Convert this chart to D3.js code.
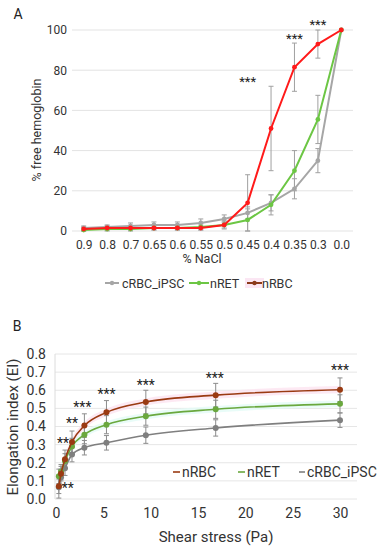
<!DOCTYPE html>
<html><head><meta charset="utf-8">
<script src="https://cdn.jsdelivr.net/npm/d3@7"></script>
<style>body{margin:0;background:#fff}svg{display:block;font-family:Roboto,"Noto Sans",sans-serif}</style>
</head><body>
<script>
// ---------- Panel A data ----------
const naclLabels = ["0.9","0.8","0.7","0.65","0.6","0.55","0.5","0.45","0.4","0.35","0.3","0.0"];
const aTicks = [0,20,40,60,80,100];
const aCRBC = [1.5,2,2.5,3,3,4,6,9,14,21,35,100];
const aCRBCerr = [1,1,1.5,1.5,1.5,2,2,3,4,5,6,0];
const aNRET = [0.5,1,1,1.5,1.5,2,3,5.5,13,30,55.5,100];
const aNRETerr = [1,1,1,1,1,1.5,2,5.5,5,10,12,0];
const aNRBC = [1,1.5,1.5,1.5,1.5,1.5,3,14,51,81.5,93,100];
const aNRBCerr = [1,1,1,1,1,1,1.5,14,21,12,7,0];
const aStars = [{c:"0.45",v:75,t:"***"},{c:"0.35",v:96.5,t:"***"},{c:"0.3",v:103.5,t:"***"}];
const aLegend = ["cRBC_iPSC","nRET","nRBC"];

// ---------- Panel B data ----------
const shear = [0.3,0.53,0.95,1.69,3,5.33,9.49,16.87,30];
const bTicksX = [0,5,10,15,20,25,30];
const bTicksY = [0,0.1,0.2,0.3,0.4,0.5,0.6,0.7,0.8];
const bNRBC = [0.07,0.14,0.22,0.315,0.405,0.478,0.535,0.573,0.603];
const bNRBCerr = [0.04,0.04,0.05,0.06,0.065,0.065,0.065,0.065,0.065];
const bNRET = [0.125,0.15,0.21,0.29,0.355,0.41,0.457,0.495,0.525];
const bNRETerr = [0.04,0.04,0.04,0.045,0.05,0.05,0.05,0.05,0.05];
const bCRBC = [0.065,0.12,0.17,0.245,0.283,0.31,0.352,0.392,0.435];
const bCRBCerr = [0.06,0.045,0.04,0.04,0.04,0.04,0.045,0.045,0.04];
const bStars = [{s:0.3,v:0.07,t:"**",dx:9},{s:0.95,v:0.32,t:"**",dx:-2},{s:1.69,v:0.43,t:"**",dx:0},
  {s:3,v:0.52,t:"***",dx:-2},{s:5.33,v:0.59,t:"***",dx:0},{s:9.49,v:0.64,t:"***",dx:0},
  {s:16.87,v:0.68,t:"***",dx:-1},{s:30,v:0.723,t:"***",dx:0}];
const bLegend = ["nRBC","nRET","cRBC_iPSC"];

const W=379,H=550;
const svg=d3.select("body").append("svg").attr("width",W).attr("height",H);

// ================= Panel A =================
const colA={c:"#a6a6a6",t:"#6cc644",r:"#ff1a1a"};
const xA=d3.scalePoint().domain(naclLabels).range([72,353]).padding(0.5);
const yA=d3.scaleLinear().domain([0,100]).range([231,30]);
const gA=svg.append("g");
svg.append("text").attr("x",18).attr("y",19).attr("font-size",14).attr("text-anchor","middle").attr("fill","#222").text("A");
gA.append("g").selectAll("line").data(aTicks).join("line")
  .attr("x1",72).attr("x2",353).attr("y1",d=>yA(d)).attr("y2",d=>yA(d)).attr("stroke","#e3e3e3");
const axYA=gA.append("g").attr("transform","translate(72,0)").call(d3.axisLeft(yA).tickValues(aTicks).tickSize(0).tickPadding(5));
axYA.select(".domain").remove();
axYA.selectAll("text").attr("font-size",12).attr("fill","#333").attr("font-family","Roboto");
const axXA=gA.append("g").attr("transform","translate(0,231)").call(d3.axisBottom(xA).tickSize(0).tickPadding(9));
axXA.select(".domain").remove();
axXA.selectAll("text").attr("font-size",12).attr("fill","#333").attr("font-family","Roboto");
gA.append("text").attr("x",202).attr("y",263).attr("text-anchor","middle").attr("font-size",12.5).attr("fill","#333").text("% NaCl");
gA.append("text").attr("transform","translate(41,130) rotate(-90)").attr("text-anchor","middle").attr("font-size",12.5).attr("fill","#333").text("% free hemoglobin");

const seriesA=[{v:aCRBC,e:aCRBCerr,c:colA.c},{v:aNRET,e:aNRETerr,c:colA.t},{v:aNRBC,e:aNRBCerr,c:colA.r}];
// error bars
seriesA.forEach(s=>{
  const g=gA.append("g").attr("stroke","#a0a0a0").attr("stroke-width",1);
  naclLabels.forEach((lab,i)=>{
    if(!s.e[i]) return;
    const x=xA(lab),y1=yA(Math.max(0,s.v[i]-s.e[i])),y2=yA(s.v[i]+s.e[i]);
    g.append("line").attr("x1",x).attr("x2",x).attr("y1",y1).attr("y2",y2);
    g.append("line").attr("x1",x-2.5).attr("x2",x+2.5).attr("y1",y1).attr("y2",y1);
    g.append("line").attr("x1",x-2.5).attr("x2",x+2.5).attr("y1",y2).attr("y2",y2);
  });
});
const lineA=d3.line().x((d,i)=>xA(naclLabels[i])).y(d=>yA(d));
seriesA.forEach(s=>{
  gA.append("path").datum(s.v).attr("d",lineA).attr("fill","none").attr("stroke",s.c).attr("stroke-width",2);
  gA.append("g").selectAll("circle").data(s.v).join("circle")
    .attr("cx",(d,i)=>xA(naclLabels[i])).attr("cy",d=>yA(d)).attr("r",2.4).attr("fill",s.c);
});
gA.append("g").selectAll("text").data(aStars).join("text")
  .attr("x",d=>xA(d.c)).attr("y",d=>yA(d.v)+6).attr("text-anchor","middle").attr("font-size",13).attr("fill","#222").text(d=>d.t);
// legend A
const legA=[{t:aLegend[0],c:colA.c,x0:105,x1:119,tx:122},{t:aLegend[1],c:colA.t,x0:189,x1:209,tx:210},{t:aLegend[2],c:"#8b3a1a",x0:247,x1:262,tx:262,bg:true}];
legA.forEach(l=>{
  const y=283;
  if(l.bg) gA.append("rect").attr("x",l.x0-2).attr("y",y-5).attr("width",l.x1-l.x0+4).attr("height",10).attr("fill","#fbe6f3");
  gA.append("line").attr("x1",l.x0).attr("x2",l.x1).attr("y1",y).attr("y2",y).attr("stroke",l.c).attr("stroke-width",2);
  gA.append("circle").attr("cx",(l.x0+l.x1)/2).attr("cy",y).attr("r",2.2).attr("fill",l.c);
  gA.append("text").attr("x",l.tx).attr("y",y+4.5).attr("font-size",12.5).attr("fill","#333").text(l.t);
});

// ================= Panel B =================
const colB={r:"#9a3a12",t:"#6aa83e",c:"#7f7f7f"};
const xB=d3.scaleLinear().domain([0,30]).range([56,340]);
const yB=d3.scaleLinear().domain([0,0.8]).range([499,354]);
const gB=svg.append("g");
svg.append("text").attr("x",17).attr("y",331).attr("font-size",14).attr("text-anchor","middle").attr("fill","#222").text("B");
gB.append("g").selectAll("line").data(bTicksY).join("line")
  .attr("x1",55).attr("x2",357).attr("y1",d=>yB(d)).attr("y2",d=>yB(d)).attr("stroke","#e6e6e6");
gB.append("line").attr("x1",55).attr("x2",55).attr("y1",yB(0.8)).attr("y2",yB(0)).attr("stroke","#dcdcdc");
const axYB=gB.append("g").attr("transform","translate(55,0)").call(d3.axisLeft(yB).tickValues(bTicksY).tickFormat(d3.format(".1f")).tickSize(0).tickPadding(9));
axYB.select(".domain").remove();
axYB.selectAll("text").attr("font-size",14).attr("fill","#333").attr("font-family","Roboto");
const axXB=gB.append("g").attr("transform","translate(0,499)").call(d3.axisBottom(xB).tickValues(bTicksX).tickSize(0).tickPadding(9));
axXB.select(".domain").remove();
axXB.selectAll("text").attr("font-size",14).attr("fill","#333").attr("font-family","Roboto");
gB.append("text").attr("x",216).attr("y",542).attr("text-anchor","middle").attr("font-size",15).attr("fill","#333").text("Shear stress (Pa)");
gB.append("text").attr("transform","translate(18,427) rotate(-90)").attr("text-anchor","middle").attr("font-size",15).attr("fill","#333").text("Elongation index (EI)");

const curveB=d3.line().x((d,i)=>xB(shear[i])).y(d=>yB(d)).curve(d3.curveMonotoneX);
const areaB=(vals,w)=>d3.area().x((d,i)=>xB(shear[i])).y0(d=>yB(d-w)).y1(d=>yB(d+w)).curve(d3.curveMonotoneX)(vals);
gB.append("path").attr("d",areaB(bNRBC,0.02)).attr("fill","#fde3f0").attr("opacity",0.8);
gB.append("path").attr("d",areaB(bNRET,0.018)).attr("fill","#e3fbf6").attr("opacity",0.8);

const seriesB=[{v:bCRBC,e:bCRBCerr,c:colB.c},{v:bNRET,e:bNRETerr,c:colB.t},{v:bNRBC,e:bNRBCerr,c:colB.r}];
seriesB.forEach(s=>{
  const g=gB.append("g").attr("stroke","#8c8c8c").attr("stroke-width",1);
  shear.forEach((sx,i)=>{
    const x=xB(sx),y1=yB(s.v[i]-s.e[i]),y2=yB(s.v[i]+s.e[i]);
    g.append("line").attr("x1",x).attr("x2",x).attr("y1",y1).attr("y2",y2);
    g.append("line").attr("x1",x-2.5).attr("x2",x+2.5).attr("y1",y1).attr("y2",y1);
    g.append("line").attr("x1",x-2.5).attr("x2",x+2.5).attr("y1",y2).attr("y2",y2);
  });
});
seriesB.forEach(s=>{
  gB.append("path").datum(s.v).attr("d",curveB).attr("fill","none").attr("stroke",s.c).attr("stroke-width",1.6);
  gB.append("g").selectAll("circle").data(s.v).join("circle")
    .attr("cx",(d,i)=>xB(shear[i])).attr("cy",d=>yB(d)).attr("r",3).attr("fill",s.c);
});
gB.append("g").selectAll("text").data(bStars).join("text")
  .attr("x",d=>xB(d.s)+d.dx).attr("y",d=>yB(d.v)+7).attr("text-anchor","middle").attr("font-size",14).attr("fill","#222").text(d=>d.t);
// legend B
const legB=[{t:bLegend[0],c:colB.r,x0:173,x1:180,tx:182},{t:bLegend[1],c:colB.t,x0:238,x1:245,tx:247},{t:bLegend[2],c:colB.c,x0:299,x1:305,tx:307}];
legB.forEach(l=>{
  const y=472;
  gB.append("line").attr("x1",l.x0).attr("x2",l.x1).attr("y1",y).attr("y2",y).attr("stroke",l.c).attr("stroke-width",1.6);
  gB.append("text").attr("x",l.tx).attr("y",y+5).attr("font-size",14).attr("fill","#333").text(l.t);
});
</script>
</body></html>
